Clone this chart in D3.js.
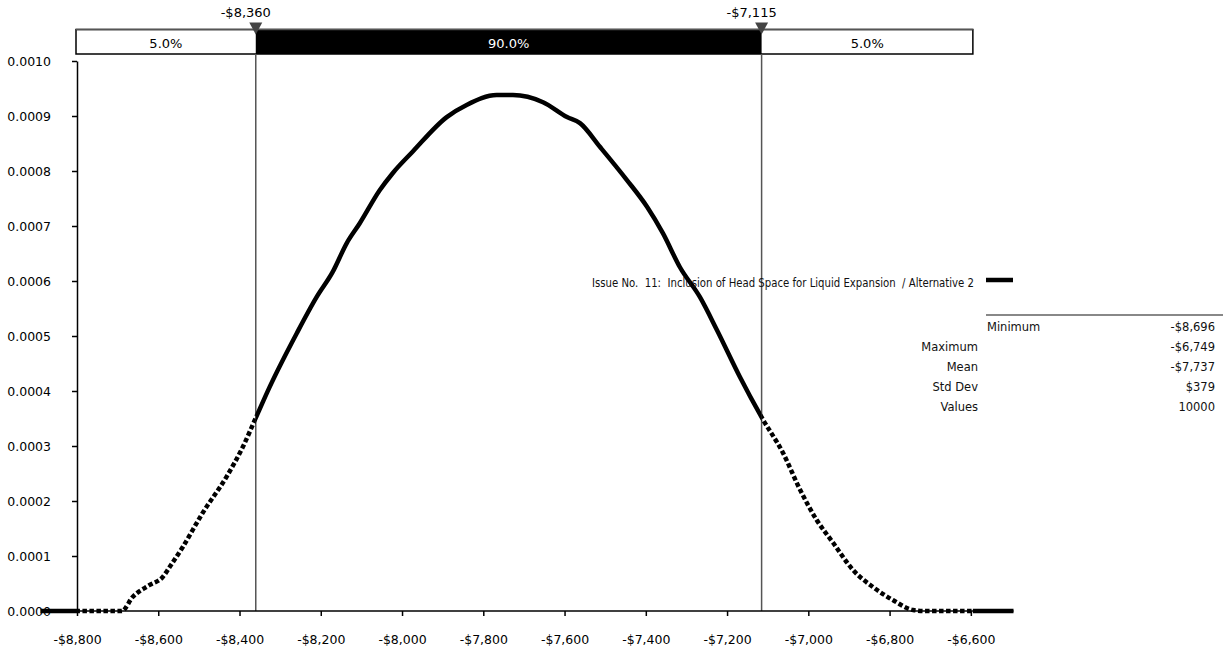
<!DOCTYPE html>
<html><head><meta charset="utf-8">
<script src="https://cdn.jsdelivr.net/npm/d3@7"></script>
<style>body{margin:0;background:#fff} svg{display:block} text{font-family:"DejaVu Sans",sans-serif}</style>
</head><body><svg id="c" width="1225" height="651"></svg>
<script>
// ---- data ----
const curveX = [-8890, -8690, -8663, -8621, -8589, -8572, -8540, -8491, -8432, -8392, -8360, -8326, -8259, -8210, -8171, -8136, -8104, -8055, -8023, -7974, -7890, -7841, -7767, -7727, -7653, -7594, -7562, -7513, -7447, -7397, -7358, -7316, -7267, -7225, -7168, -7114, -7062, -7020, -6979, -6939, -6890, -6841, -6792, -6742, -6712, -6495];
const curveY = [0, 0, 0.0000255, 0.0000473, 0.0000618, 0.00008, 0.000116, 0.000178, 0.000244, 0.000298, 0.000351, 0.000407, 0.000505, 0.000571, 0.000616, 0.000669, 0.000705, 0.000765, 0.000796, 0.000835, 0.000898, 0.00092, 0.000938, 0.000938, 0.000925, 0.000898, 0.000887, 0.000844, 0.000784, 0.000735, 0.000687, 0.000625, 0.000571, 0.000511, 0.000425, 0.000351, 0.000287, 0.00022, 0.000165, 0.000124, 0.0000745, 0.0000436, 0.00002, 0.0000018, 0, 0];
const xTicks = [-8800, -8600, -8400, -8200, -8000, -7800, -7600, -7400, -7200, -7000, -6800, -6600];
const yTicks = [0, 0.0001, 0.0002, 0.0003, 0.0004, 0.0005, 0.0006, 0.0007, 0.0008, 0.0009, 0.0010];
const cutoffs = [-8360, -7115];
const cutoffLabels = ["-$8,360", "-$7,115"];
const bandExtent = [-8800, -6595];
const bandLabels = ["5.0%", "90.0%", "5.0%"];
const statLabels = ["Minimum", "Maximum", "Mean", "Std Dev", "Values"];
const statValues = ["-$8,696", "-$6,749", "-$7,737", "$379", "10000"];
const seriesName = "Issue No.  11:  Inclusion of Head Space for Liquid Expansion  / Alternative 2";

// ---- chart ----
const svg = d3.select("#c");
const x = d3.scaleLinear().domain([-8800, -6495]).range([77, 1013.5]);
const y = d3.scaleLinear().domain([0, 0.001]).range([611, 61]);
const pts = curveX.map((v, i) => [v, curveY[i]]);

// band
const bx0 = x(bandExtent[0]) - 1, bx1 = x(bandExtent[1]);
const bandG = svg.append("g");
bandG.append("rect").attr("x", bx0).attr("y", 29.5).attr("width", bx1 - bx0).attr("height", 24.5)
  .attr("fill", "#fff").attr("stroke", "#000").attr("stroke-width", 1.5);
bandG.append("rect").attr("x", x(cutoffs[0])).attr("y", 29.5).attr("width", x(cutoffs[1]) - x(cutoffs[0])).attr("height", 24.5)
  .attr("fill", "#000");
bandG.append("line").attr("x1", bx0).attr("x2", bx1).attr("y1", 29.5).attr("y2", 29.5).attr("stroke", "#555").attr("stroke-width", 1.5);
const segs = [[bx0, x(cutoffs[0])], [x(cutoffs[0]), x(cutoffs[1])], [x(cutoffs[1]), bx1]];
segs.forEach((s, i) => {
  bandG.append("text").attr("x", (s[0] + s[1]) / 2).attr("y", 47.5).attr("text-anchor", "middle")
    .attr("font-size", 13).attr("fill", i === 1 ? "#fff" : "#000").text(bandLabels[i]);
});

// cutoff lines, triangles, labels
cutoffs.forEach((c, i) => {
  const cx = x(c);
  svg.append("line").attr("x1", cx).attr("x2", cx).attr("y1", 54).attr("y2", 611)
    .attr("stroke", "#555").attr("stroke-width", 1.5);
  svg.append("path").attr("d", `M${cx - 6.5},22.5L${cx + 6.5},22.5L${cx},34.5Z`).attr("fill", "#444");
  svg.append("text").attr("x", cx - 10).attr("y", 16.5).attr("text-anchor", "middle")
    .attr("font-size", 13).attr("fill", "#000").text(cutoffLabels[i]);
});

// axes
const xAxis = svg.append("g").attr("transform", "translate(0,611)")
  .call(d3.axisBottom(x).tickValues(xTicks).tickSize(5).tickSizeOuter(0).tickPadding(19)
    .tickFormat(d => "-$" + d3.format(",")(Math.abs(d))));
const yAxis = svg.append("g").attr("transform", "translate(77,0)")
  .call(d3.axisLeft(y).tickValues(yTicks).tickSize(5).tickSizeOuter(0).tickPadding(21).tickFormat(d3.format(".4f")));
[xAxis, yAxis].forEach(a => {
  a.attr("font-family", null).attr("font-size", null).attr("color", "#000");
  a.selectAll("text").attr("font-size", 12.5).style("font-family", '"DejaVu Sans",sans-serif');
  a.select(".domain").attr("stroke-width", 1.5);
  a.selectAll(".tick line").attr("stroke-width", 1.5);
});
xAxis.select(".domain").attr("d", `M${x.range()[0] - 1},0H${x.range()[1]}`);

// curve with clip regions
const defs = svg.append("defs");
const regions = [
  {id: "r0", a: 0, b: x(bandExtent[0]), dash: false},
  {id: "r1", a: x(bandExtent[0]), b: x(cutoffs[0]), dash: true},
  {id: "r2", a: x(cutoffs[0]), b: x(cutoffs[1]), dash: false},
  {id: "r3", a: x(cutoffs[1]), b: bx1, dash: true},
  {id: "r4", a: bx1, b: 1225, dash: false}
];
const line = d3.line().x(d => x(d[0])).y(d => y(d[1])).curve(d3.curveMonotoneX);
regions.forEach(r => {
  defs.append("clipPath").attr("id", r.id).append("rect")
    .attr("x", r.a).attr("y", 0).attr("width", r.b - r.a).attr("height", 651);
  svg.append("path").datum(pts).attr("d", line).attr("fill", "none").attr("stroke", "#000")
    .attr("stroke-width", 4.5).attr("stroke-linejoin", "round")
    .attr("stroke-dasharray", r.dash ? "4.5,2.5" : null)
    .attr("clip-path", `url(#${r.id})`);
});

// legend
const lt = svg.append("text").attr("x", 974).attr("y", 287).attr("text-anchor", "end")
  .attr("font-size", 11.5).attr("fill", "#111").style("white-space", "pre").text(seriesName);
lt.attr("textLength", 382).attr("lengthAdjust", "spacingAndGlyphs");
svg.append("line").attr("x1", 986).attr("x2", 1013).attr("y1", 280).attr("y2", 280)
  .attr("stroke", "#000").attr("stroke-width", 4.5);

// stats
svg.append("line").attr("x1", 986).attr("x2", 1223).attr("y1", 315).attr("y2", 315)
  .attr("stroke", "#888").attr("stroke-width", 2);
statLabels.forEach((s, i) => {
  const yy = 330.5 + i * 20.2;
  svg.append("text").attr("x", i === 0 ? 987 : 978).attr("y", yy)
    .attr("text-anchor", i === 0 ? "start" : "end").attr("font-size", 11.5).attr("fill", "#111").text(s);
  svg.append("text").attr("x", 1215).attr("y", yy).attr("text-anchor", "end")
    .attr("font-size", 11.5).attr("fill", "#111").text(statValues[i]);
});
</script></body></html>
